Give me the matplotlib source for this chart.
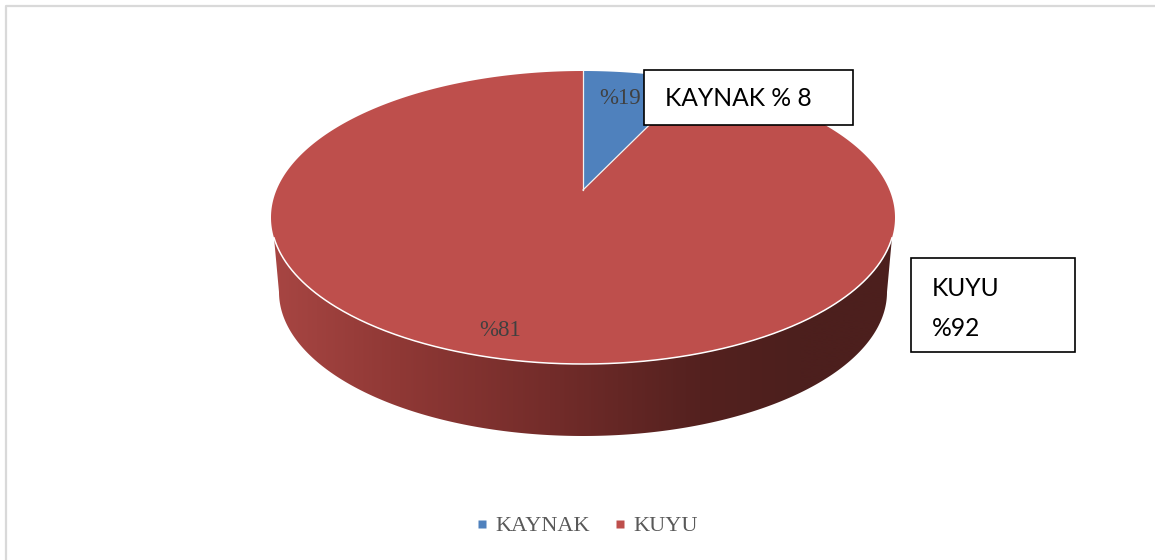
import numpy as np
import matplotlib
matplotlib.use("Agg")
import matplotlib.pyplot as plt
from matplotlib.lines import Line2D
from matplotlib.patches import Polygon, Rectangle

# Data
categories = ["KAYNAK", "KUYU"]
slice_shares = [7, 93]            # share as drawn (estimated from the slice geometry)
data_labels = ["%19", "%81"]
callout_texts = ["KAYNAK % 8", "KUYU\n%92"]

# Styles and layout
W, H = 1155, 560
BLUE, RED = "#4f81bd", "#be4f4c"
TEXT_GREY = "#404040"
cx, cy, rx, ry = 583.0, 217.5, 312.0, 146.5     # top face ellipse
bx, by, brx, bry = 583.0, 292.0, 304.0, 144.0   # lower rim of the wall
apex_shift = 27.5 / ry                          # perspective shift of the pie centre


def to_pixels(r, theta):
    """Map polar disc coordinates (clockwise from top) to the tilted pie face."""
    x, y = r * np.sin(theta), r * np.cos(theta)
    d = 1 + apex_shift * y
    xp = x * np.sqrt(1 - apex_shift ** 2) / d
    yp = (y + apex_shift) / d
    return cx + rx * xp, cy - ry * yp


fig = plt.figure(figsize=(W / 100, H / 100), dpi=100, facecolor="white")
ax = fig.add_axes([0, 0, 1, 1])
ax.set_xlim(0, W)
ax.set_ylim(H, 0)
ax.axis("off")

# Chart frame: only the top and left edges are visible
ax.plot([6, 6, W], [H, 6, 6], color="#d9d9d9", lw=1.6, zorder=1)

# Wall with a horizontal shade
front = np.linspace(np.deg2rad(8), np.deg2rad(172), 300)
top_x = cx + rx * np.cos(front)
top_y = cy + ry * np.sin(front)
low = np.linspace(np.deg2rad(180), 0, 300)
low_x = bx + brx * np.cos(low)
low_y = by + bry * np.sin(low)
wall_pts = np.column_stack([np.r_[top_x, low_x], np.r_[top_y, low_y]])
wall = Polygon(wall_pts, closed=True, fc="none", ec="none")
ax.add_patch(wall)
stops_x = np.array([270, 400, 550, 700, 800, 900])
stops_c = np.array([[168, 70, 67], [143, 56, 53], [115, 44, 42], [84, 33, 31], [76, 31, 29], [76, 31, 29]]) / 255
xs = np.arange(270, 901)
grad = np.stack([np.interp(xs, stops_x, stops_c[:, i]) for i in range(3)], axis=-1)[None, :, :]
im = ax.imshow(grad, extent=(270, 900, 440, 200), aspect="auto", zorder=2, interpolation="bilinear")
im.set_clip_path(wall)
ax.set_xlim(0, W)
ax.set_ylim(H, 0)

# Top face, slices from the shares
fractions = np.array(slice_shares, dtype=float) / sum(slice_shares)
edges = np.r_[0, np.cumsum(fractions)] * 2 * np.pi
apex = to_pixels(0, 0)
for i, color in enumerate([BLUE, RED]):
    th = np.linspace(edges[i], edges[i + 1], 400)
    px, py = to_pixels(1, th)
    pts = np.column_stack([np.r_[apex[0], px], np.r_[apex[1], py]])
    ax.add_patch(Polygon(pts, closed=True, fc=color, ec="none", zorder=3))
for ang in edges[:2]:
    px, py = to_pixels(1, ang)
    ax.plot([apex[0], px], [apex[1], py], color="#f2f2f2", lw=0.9, zorder=4)

# White rim on the front of the face
ax.plot(cx + rx * np.cos(front), cy + ry * np.sin(front), color="white", lw=1.1, zorder=4)

# Data labels
serif = "Liberation Serif"
ax.text(620, 98, data_labels[0], family=serif, fontsize=16.5, color=TEXT_GREY, ha="center", va="center", zorder=5)
ax.text(500, 331, data_labels[1], family=serif, fontsize=16.5, color=TEXT_GREY, ha="center", va="center", zorder=5)

# Callout boxes
ax.add_patch(Rectangle((644, 69.5), 209, 55, fc="white", ec="black", lw=1.2, zorder=6))
ax.text(665, 99, callout_texts[0], family="Lato", fontsize=17.7, color="black", ha="left", va="center", zorder=7)
ax.add_patch(Rectangle((910.5, 257.5), 164.5, 94, fc="white", ec="black", lw=1.2, zorder=6))
line1, line2 = callout_texts[1].split("\n")
ax.text(932, 288, line1, family="Lato", fontsize=17.7, color="black", ha="left", va="center", zorder=7)
ax.text(932, 328, line2, family="Lato", fontsize=17.7, color="black", ha="left", va="center", zorder=7)

# Legend
handles = [Line2D([], [], ls="none", marker="s", ms=5.2, mfc=c, mec="none") for c in (BLUE, RED)]
ax.legend(handles, categories, loc="center", bbox_to_anchor=(587 / W, 1 - 526 / H),
          ncol=2, frameon=False, prop={"family": serif, "size": 16},
          labelcolor="#595959", handlelength=0.5, handletextpad=0.35, columnspacing=1.1)

fig.savefig("out.png", dpi=100, facecolor="white")
